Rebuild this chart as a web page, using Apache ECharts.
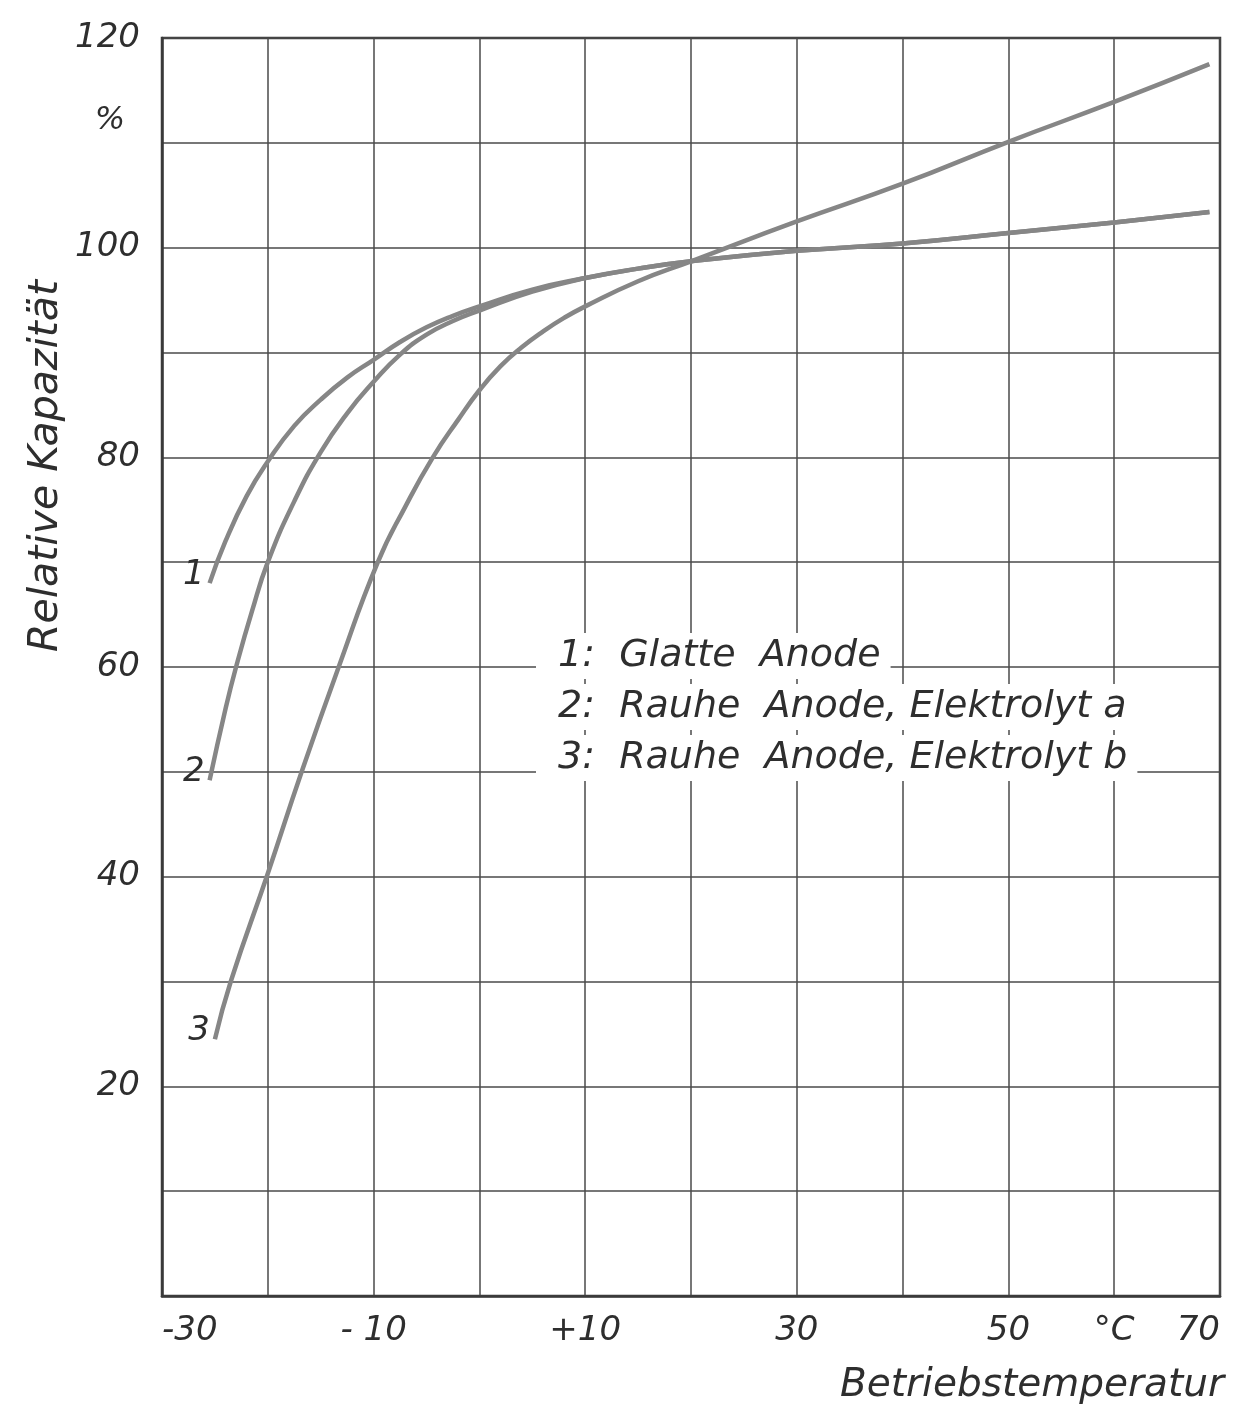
<!DOCTYPE html>
<html>
<head>
<meta charset="utf-8">
<script src="https://cdn.jsdelivr.net/npm/echarts@6/dist/echarts.min.js"></script>
<style>
  html, body { margin: 0; padding: 0; background: #ffffff; }
  #chart { width: 1239px; height: 1408px; }
</style>
</head>
<body>
<div id="chart"></div>
<script>
// Operating temperature (°C) and relative capacitance (%) for each curve
const temp1 = [-25.5, -24, -22, -20, -17.5, -15, -12.5, -10, -7.5, -5, -2.5, 0, 5, 10, 15, 20, 30, 40, 50, 60, 69];
const cap1  = [68, 72, 76.3, 79.6, 83, 85.5, 87.6, 89.3, 91, 92.4, 93.5, 94.4, 96, 97.1, 98, 98.7, 99.7, 100.4, 101.4, 102.4, 103.4];

const temp2 = [-25.5, -24, -23, -21.5, -20, -17.5, -15, -12.5, -10, -7.5, -5, -2.5, 0, 5, 10, 15, 20, 30, 40, 50, 60, 69];
const cap2  = [49.2, 56, 60, 65.3, 70, 75.8, 80.5, 84.2, 87.2, 89.8, 91.7, 93, 94, 95.8, 97.1, 98, 98.7, 99.7, 100.4, 101.4, 102.4, 103.4];

const temp3 = [-25, -23.5, -20, -16.8, -13.3, -9.6, -7, -4.4, -2, 0, 2, 4, 6, 8, 10, 15, 20, 30, 40, 50, 60, 69];
const cap3  = [24.5, 30, 40.3, 50, 60, 70, 75.3, 80, 83.6, 86.4, 88.7, 90.5, 92, 93.3, 94.4, 96.8, 98.7, 102.5, 106.1, 110.1, 113.9, 117.5];

const curveNames = ['Glatte  Anode', 'Rauhe  Anode, Elektrolyt a', 'Rauhe  Anode, Elektrolyt b'];
const curveTags = ['1', '2', '3'];

// Axis tick labels
const xTickLabels = { '-30': '-30', '-10': '- 10', '10': '+10', '30': '30', '50': '50', '60': '°C', '70': '70' };
const yTickLabels = { '20': '20', '40': '40', '60': '60', '80': '80', '100': '100', '120': '120' };

const FONT = 'DejaVu Sans';
const INK = '#2e2e2e';
const CURVE = '#868686';

function pairs(xs, ys, tag) {
  return xs.map((x, i) => {
    if (i === 0) {
      return {
        value: [x, ys[i]],
        label: {
          show: true, position: 'left', formatter: tag, offset: [0, -8],
          fontFamily: FONT, fontStyle: 'italic', fontSize: 34, color: INK
        }
      };
    }
    return [x, ys[i]];
  });
}

const series = [[temp1, cap1], [temp2, cap2], [temp3, cap3]].map((d, k) => ({
  name: curveNames[k],
  type: 'line',
  data: pairs(d[0], d[1], curveTags[k]),
  smooth: 0.5,
  symbol: 'circle',
  symbolSize: 0,
  silent: true,
  lineStyle: { color: CURVE, width: 4.5 },
  itemStyle: { color: CURVE },
  label: { show: false },
  z: 3
}));

const chart = echarts.init(document.getElementById('chart'), null, { renderer: 'canvas' });

const legendText = curveNames.map((n, i) => curveTags[i] + ':  ' + n);

chart.setOption({
  backgroundColor: '#ffffff',
  animation: false,
  grid: {
    left: 162, right: 19, top: 38, bottom: 112,
    show: true, borderColor: '#3a3a3a', borderWidth: 2.5, backgroundColor: 'transparent'
  },
  xAxis: {
    type: 'value', min: -30, max: 70, interval: 10,
    axisLine: { show: true, onZero: false, lineStyle: { color: '#3a3a3a', width: 2.5 } },
    axisTick: { show: false },
    splitLine: { show: true, lineStyle: { color: '#4a4a4a', width: 1.5 } },
    axisLabel: {
      margin: 18,
      fontFamily: FONT, fontStyle: 'italic', fontSize: 34, color: INK,
      alignMinLabel: 'left', alignMaxLabel: 'right',
      formatter: v => xTickLabels[String(v)] || ''
    }
  },
  yAxis: {
    type: 'value', min: 0, max: 120, interval: 10,
    axisLine: { show: true, onZero: false, lineStyle: { color: '#3a3a3a', width: 2.5 } },
    axisTick: { show: false },
    splitLine: { show: true, lineStyle: { color: '#4a4a4a', width: 1.5 } },
    axisLabel: {
      margin: 22, padding: [10, 0, 0, 0],
      fontFamily: FONT, fontStyle: 'italic', fontSize: 34, color: INK,
      formatter: v => yTickLabels[String(v)] || ''
    }
  },
  graphic: [
    {
      type: 'text', x: 110, y: 121, z: 10,
      style: {
        text: '%', fontFamily: FONT, fontStyle: 'italic', fontSize: 32, fill: INK,
        align: 'center', verticalAlign: 'middle'
      }
    },
    {
      type: 'text', x: 46, y: 466, rotation: Math.PI / 2, z: 10,
      style: {
        text: 'Relative Kapazität', fontFamily: FONT, fontStyle: 'italic', fontSize: 41,
        fill: INK, align: 'center', verticalAlign: 'middle'
      }
    },
    {
      type: 'text', x: 1224, y: 1386, z: 10,
      style: {
        text: 'Betriebstemperatur', fontFamily: FONT, fontStyle: 'italic', fontSize: 39,
        fill: INK, align: 'right', verticalAlign: 'middle'
      }
    }
  ].concat(legendText.map((t, i) => ({
    type: 'text', x: 536, y: 656 + i * 51, z: 10,
    style: {
      text: t, fontFamily: FONT, fontStyle: 'italic', fontSize: 38, fill: INK,
      align: 'left', verticalAlign: 'middle',
      backgroundColor: '#ffffff', padding: [4, 10, 4, 22]
    }
  }))),
  series: series
});
</script>
</body>
</html>
